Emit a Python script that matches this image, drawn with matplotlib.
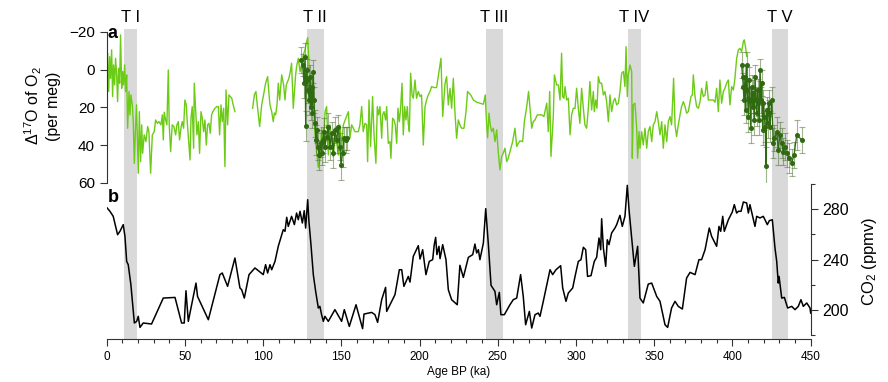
import numpy as np
import matplotlib
matplotlib.use("Agg")
import matplotlib.pyplot as plt
from matplotlib.ticker import MultipleLocator

plt.rcParams['font.family'] = ['Liberation Sans', 'DejaVu Sans']
plt.rcParams['mathtext.fontset'] = 'custom'
plt.rcParams['mathtext.rm'] = 'Liberation Sans'
plt.rcParams['mathtext.it'] = 'Liberation Sans:italic'

# --- Δ17O of O2, full record (per meg); NaN marks the data gap ---
age_o17 = [
    0.0, 0.6, 1.3, 1.9, 2.5, 3.2, 3.8, 4.4, 5.1, 5.7, 6.4, 7.0, 7.6, 8.3, 8.9, 9.6,
    10.2, 10.8, 11.5, 12.1, 12.8, 13.4, 14.3, 14.9, 15.5, 16.4, 17.0, 17.7, 18.5, 19.1,
    20.2, 20.9, 21.7, 22.4, 23.0, 24.0, 25.1, 26.2, 27.0, 28.1, 29.2, 30.4, 31.3, 32.4,
    33.4, 34.7, 35.6, 36.2, 36.8, 37.7, 38.5, 39.4, 40.0, 40.9, 41.9, 43.0, 44.1, 44.9,
    45.8, 46.6, 47.5, 48.3, 49.2, 50.0, 50.9, 51.5, 52.2, 53.3, 53.9, 54.7, 55.6, 56.0,
    56.9, 57.7, 58.6, 59.4, 60.3, 61.1, 62.0, 62.8, 63.7, 64.5, 65.4, 66.2, 67.1, 67.9,
    69.2, 70.5, 71.4, 72.2, 73.1, 73.9, 74.8, 75.6, 76.3, 77.3, 78.2, 79.0, 79.9, 80.9,
    82.0, 88.0,
    93.3, 94.4, 95.4, 96.5, 97.8, 99.1, 100.3, 101.6, 102.9, 103.8, 104.4, 105.5, 106.5,
    107.2, 108.0, 108.9, 109.7, 110.6, 111.9, 113.1, 114.0, 114.8, 115.7, 116.5, 117.4,
    118.2, 119.3, 120.8, 121.4, 122.5, 123.6, 124.6, 125.7, 126.8, 127.6, 128.5,
    129.3, 130.2, 131.0, 132.1, 133.2, 134.2, 135.3, 136.4, 137.4, 138.5, 139.6, 140.6,
    141.7, 142.7, 143.8, 144.9, 145.9, 147.0, 148.1, 149.1, 150.2, 151.3,
    154.5, 155.5, 156.6, 157.7, 158.7, 159.8, 160.9, 161.9, 163.0, 164.0, 165.1, 166.2,
    166.8, 167.7, 168.7, 170.0, 170.9, 172.1, 173.0, 173.8, 174.7, 175.8, 176.4, 177.3,
    178.3, 179.0, 180.0, 181.1, 181.7, 182.8, 183.7, 184.5, 185.4, 186.2, 187.1, 187.9,
    188.8, 189.6, 190.5, 191.3, 192.2, 192.8, 193.5, 194.3, 195.2, 196.0, 197.1, 198.1,
    199.2, 200.3, 201.3, 202.4, 203.5, 204.5, 205.6, 206.7, 207.7, 209.4, 210.9, 213.7,
    214.8, 216.3, 217.3, 218.4, 219.5, 220.5, 221.6, 222.6, 223.7, 224.8, 225.8, 226.9,
    228.4, 229.7, 230.7, 232.7, 234.4, 236.5, 238.6, 240.8, 242.0, 242.9, 243.5, 244.4,
    245.2, 246.1, 247.2, 248.2, 249.3, 250.3, 251.4, 252.5, 253.5, 254.6, 255.7, 256.7,
    257.8, 259.5, 261.0, 262.1, 263.1, 264.2, 265.9, 267.0, 268.5, 269.7, 270.6, 271.7,
    272.7, 273.8, 275.3, 276.6, 278.1, 279.5, 281.3, 282.3, 283.2, 284.0, 285.5, 286.2,
    287.6, 288.7, 289.8, 290.8, 291.5, 292.3, 293.0, 294.0, 295.1, 296.2, 297.2, 298.3,
    299.4, 300.4, 301.5, 302.5, 303.6, 304.7, 305.7, 306.8, 307.9, 308.9, 310.0, 311.1,
    311.7, 312.6, 313.4, 314.3, 315.3, 316.4, 317.5, 318.5, 319.6, 320.7, 321.7, 322.8,
    323.9, 324.9, 326.0, 327.1, 328.1, 329.2, 330.3, 331.3, 332.0, 332.8, 333.4, 334.5,
    335.6, 336.0, 336.6, 337.7, 338.8, 339.4, 340.3, 340.9, 342.0, 343.0, 344.1, 345.2,
    346.2, 347.3, 348.4, 349.4, 350.5, 351.6, 352.6, 353.7, 354.8, 355.8, 356.9, 358.0,
    359.0, 360.1, 361.1, 362.4, 363.3, 364.3, 365.4, 366.5, 367.5, 368.6, 369.7, 370.7,
    371.8, 373.5, 374.4, 375.0, 376.1, 377.1, 378.2, 379.3, 380.3, 381.4, 382.5, 383.5,
    384.6, 385.7, 386.7, 387.8, 388.9, 389.9, 391.0, 392.0, 393.1, 394.2, 395.2, 396.3,
    397.4, 398.4, 399.5, 400.6, 401.6, 402.7, 403.8, 404.8, 405.9, 407.0, 407.6, 408.5,
    409.1,
]
d17o = [
    -4.3, -8.7, 11.6, -6.9, 4.6, -10.5, 14.3, -2.5, 8.1, -6.0, 2.8, 17.0, -0.7, 7.2, -18.4, 9.9,
    1.0, 8.1, -2.5, 11.6, 2.8, 31.1, 11.6, 24.0, 13.4, 18.7, 27.6, 49.7, 29.3, 18.7,
    55.0, 22.3, 48.8, 29.3, 44.4, 34.6, 38.2, 30.2, 32.9, 55.0, 34.6, 32.9, 26.7, 28.5,
    27.6, 29.3, 24.0, 37.3, 22.6, 26.7, 29.3, 0.2, 29.3, 43.5, 29.3, 30.2, 34.6, 29.3,
    27.6, 37.3, 31.1, 27.6, 31.1, 16.1, 18.7, 27.6, 35.5, 47.9, 25.8, 19.6, 41.7, 7.2,
    22.3, 34.6, 27.6, 44.4, 22.3, 25.8, 32.9, 26.7, 40.0, 29.3, 28.5, 33.8, 24.0, 22.3,
    20.5, 19.6, 19.6, 34.6, 18.7, 27.6, 20.5, 51.5, 10.8, 29.3, 13.4, 14.3, 15.0, 18.7,
    22.3, np.nan,
    20.5, 13.4, 11.6, 20.5, 30.2, 18.7, 13.4, 7.2, 3.7, 13.4, 18.7, 22.3, 27.6,
    23.0, 24.0, 18.7, 7.2, 16.1, 2.8, 8.1, 16.1, 8.1, 6.3, 4.6, 1.0,
    -3.4, 20.5, 2.8, -1.6, -6.0, 1.0, -2.5, -7.8, -10.5, -14.0, -17.0,
    -4.3, 11.6, 2.8, 16.1, 34.6, 43.5, 52.0, 47.0, 31.1, 40.0, 22.3, 19.6,
    45.3, 29.3, 37.3, 46.2, 32.9, 38.2, 45.3, 29.3, 41.7, 29.3,
    22.3, 36.4, 29.3, 31.1, 32.9, 32.9, 32.9, 29.3, 19.6, 32.9, 28.5, 29.3,
    48.8, 16.1, 40.8, 14.3, 34.6, 49.7, 19.6, 24.0, 19.6, 36.4, 24.0, 22.3,
    26.7, 19.6, 39.1, 38.2, 47.0, 25.8, 26.7, 29.3, 39.1, 20.5, 27.6, 20.5,
    7.2, 34.6, 19.6, 26.7, 19.6, 28.5, 32.9, 1.9, 13.4, 15.2, 5.5, 15.2,
    11.6, 14.3, 13.4, 40.0, 19.6, 16.1, 13.4, 11.6, 9.0, 9.5, 9.5, -6.0,
    24.9, 7.2, 3.7, 18.7, 9.9, 20.5, 4.6, 22.3, 36.4, 26.7, 29.3, 31.1,
    31.1, 22.3, 11.6, 13.4, 16.1, 17.3, 17.8, 18.4, 13.4, 29.3, 36.1, 23.1,
    29.3, 32.9, 31.1, 38.2, 32.0, 43.5, 53.2, 46.1, 44.4, 41.7, 48.8, 47.0,
    43.5, 38.2, 31.1, 40.8, 39.1, 37.8, 38.2, 27.6, 19.6, 11.6, 20.5, 31.1,
    27.6, 26.7, 24.0, 24.0, 24.0, 24.9, 17.8, 32.9, 11.6, 46.1, 24.9, 2.8,
    8.1, 8.1, 16.1, -8.7, 14.3, 15.2, 9.0, 16.1, 15.2, 34.6, 24.0, 20.5,
    20.5, 9.9, 20.5, 28.5, 9.9, 20.5, 29.3, 31.1, 20.5, 6.3, 21.4, 11.6,
    22.3, 16.1, 20.5, 3.7, 7.2, 7.2, 13.4, 11.6, 17.0, 27.6, 13.4, 22.3,
    17.0, 15.2, 18.7, 17.8, 11.6, 1.9, 1.0, 9.0, -12.2, 14.3, 2.8, -2.5,
    1.0, 47.0, 18.7, 17.8, 31.1, 47.0, 32.9, 41.7, 32.9, 40.0, 31.1, 41.7,
    32.9, 30.2, 38.2, 29.3, 27.6, 22.3, 27.6, 34.6, 27.6, 41.7, 29.3, 38.2,
    27.6, 24.9, 29.3, 4.6, 29.3, 35.5, 29.3, 24.0, 19.6, 17.0, 19.6, 23.1,
    22.3, 14.3, 13.4, 2.8, 14.3, 19.6, 20.5, 17.0, 9.9, 14.3, 13.4, 6.3,
    16.1, 16.1, 16.1, 16.1, 17.3, 9.9, 22.3, 5.5, 17.8, 11.6, 9.9, 7.2,
    5.5, 18.7, 9.0, 10.8, 4.6, -6.0, -10.5, -11.3, -9.6, -14.9, -15.8, -11.3,
    -7.0,
]

# --- high-resolution Δ17O across Termination II ---
age_t2 = [124.0, 125.3, 126.1, 126.8, 127.2, 127.8, 128.3, 128.9, 129.5, 130.0, 130.4,
          131.0, 131.4, 132.1, 132.5, 133.2, 133.8, 134.2, 134.9, 135.9, 136.8, 137.4,
          138.1, 138.9, 139.5, 140.6, 141.7, 142.7, 143.8, 144.9, 145.9, 147.0, 148.1,
          149.1, 149.8, 150.8, 151.7, 153.0, 153.8]
d17o_t2 = [-5.2, -2.5, 7.2, -6.9, 29.9, 0.1, 5.5, 10.8, 16.1, 3.7, 19.6,
           9.0, 23.1, 1.0, 16.1, 28.5, 37.3, 32.0, 40.8, 45.3, 39.1, 44.4,
           37.3, 32.9, 40.8, 35.5, 30.2, 40.8, 33.8, 44.4, 32.0, 37.3, 30.2,
           40.8, 50.6, 44.4, 36.4, 37.3, 36.4]
err_t2 = [7, 6, 8, 7, 8, 6, 7, 7, 8, 6, 7,
          7, 8, 6, 7, 7, 8, 7, 7, 8, 7, 6,
          7, 7, 8, 6, 7, 7, 6, 8, 7, 7, 6,
          7, 8, 7, 6, 7, 6]

# --- high-resolution Δ17O across Termination V ---
age_t5 = [405.9, 406.5, 406.9, 407.4, 408.0, 408.4, 409.1, 409.5, 410.2, 410.8, 411.2,
          411.7, 412.3, 413.0, 413.4, 414.0, 414.4, 415.1, 415.5, 416.1, 416.6, 417.2,
          417.6, 418.3, 418.7, 419.3, 419.7, 420.4, 421.0, 421.4, 421.9, 422.5, 423.2,
          423.6, 424.0, 425.1, 426.1, 426.8, 428.3, 429.3, 430.4, 431.5, 432.5, 433.6,
          434.7, 436.4, 437.9, 439.4, 441.1, 444.3]
d17o_t5 = [-2.5, 3.7, 9.0, 16.1, 3.7, 21.4, -2.5, 10.8, 24.9, 5.5, 16.1,
           31.1, 9.0, 19.6, 12.5, 26.7, 3.7, 16.1, 23.1, 10.8, 17.8, 26.7,
           0.1, 16.1, 7.2, 32.0, 17.8, 24.9, 30.2, 51.1, 21.4, 28.5, 17.8,
           23.1, 30.2, 16.1, 39.1, 36.4, 32.9, 42.6, 34.6, 39.1, 43.5, 40.8,
           44.4, 47.0, 49.3, 45.3, 34.6, 37.3]
err_t5 = [7, 6, 7, 8, 6, 7, 7, 6, 8, 7, 7,
          8, 6, 7, 7, 8, 6, 7, 7, 6, 7, 8,
          6, 7, 7, 8, 7, 7, 8, 10, 7, 8, 7,
          7, 8, 7, 8, 7, 8, 8, 7, 8, 7, 7,
          7, 8, 7, 7, 8, 7]

# --- Antarctic CO2 (ppmv) ---
age_co2 = [
    0.0, 2.1, 4.2, 7.0, 8.5, 10.6, 11.7, 12.8, 13.8, 15.5, 17.0, 17.7, 19.2, 20.2, 21.3,
    23.4, 28.7, 36.2, 43.7, 47.9, 49.6, 50.7, 52.2, 57.1, 58.1, 65.0, 72.4, 73.9, 77.3,
    82.0, 85.2, 86.3, 88.0, 91.0, 94.8, 100.1, 101.6, 102.9, 104.4, 105.5, 107.6, 109.7,
    112.9, 114.0, 115.1, 116.1, 118.2, 120.0, 121.4, 122.5, 123.6, 125.1, 126.3, 127.2,
    128.5, 129.3, 130.6, 132.1, 133.6, 135.3, 136.3, 137.4, 138.5, 139.5, 141.7, 145.9,
    150.2, 151.9, 155.1, 159.4, 163.6, 164.5, 169.4, 171.5, 173.2, 175.8, 178.3, 179.0,
    184.3, 187.1, 188.6, 190.0, 192.8, 193.9, 196.0, 199.2, 200.3, 202.0, 204.1, 206.2,
    208.4, 209.4, 210.3, 211.1, 212.4, 213.1, 214.8, 216.9, 218.4, 220.5, 224.1, 225.8,
    228.0, 231.2, 234.0, 235.4, 236.5, 237.6, 238.6, 240.8, 242.3, 244.0, 245.7, 248.2,
    249.3, 251.0, 252.0, 254.2, 257.8, 259.9, 262.1, 264.6, 266.3, 267.8, 270.2, 271.7,
    273.8, 275.9, 277.0, 279.1, 283.4, 285.1, 287.2, 290.2, 291.5, 293.6, 295.1, 297.9,
    299.4, 301.5, 303.2, 304.7, 306.2, 307.4, 309.6, 311.7, 313.2, 314.7, 315.8, 316.4,
    317.5, 319.0, 320.0, 321.1, 322.8, 324.9, 326.0, 328.1, 329.6, 331.3, 332.8, 333.9,
    335.6, 337.3, 339.4, 340.9, 343.0, 346.2, 348.4, 351.6, 353.7, 356.9, 358.6, 361.1,
    363.3, 365.4, 368.0, 370.7, 372.9, 376.1, 378.6, 380.3, 382.5, 385.2, 386.7, 389.9,
    391.4, 392.5, 393.8, 394.8, 397.4, 399.9, 401.2, 402.7, 403.8, 405.5, 407.0, 409.1,
    410.2, 411.2, 412.7, 414.4, 415.5, 417.6, 419.7, 420.8, 422.3, 423.6, 425.5, 427.2,
    428.3, 429.3, 429.8, 431.5, 433.2, 435.3, 437.9, 440.0, 442.1, 443.8, 445.3, 447.5,
    449.6, 450.0,
]
co2 = [
    281.5, 278.4, 274.4, 259.8, 262.5, 267.8, 258.5, 238.6, 236.0, 220.1, 198.9, 189.7,
    191.0, 195.0, 186.2, 189.7, 188.9, 209.5, 210.0, 189.7, 189.7, 215.3, 191.0, 221.4,
    210.8, 192.3, 228.1, 229.4, 218.8, 241.3, 217.5, 216.1, 209.5, 228.1, 233.4, 228.1,
    236.0, 229.4, 236.0, 232.0, 238.6, 250.6, 263.8, 262.5, 273.6, 266.4, 274.4, 267.8,
    277.0, 271.7, 278.4, 269.1, 278.9, 265.1, 287.6, 270.4, 251.9, 228.1, 214.8, 201.6,
    202.9, 196.3, 191.0, 195.0, 191.0, 200.3, 191.0, 200.3, 187.0, 204.2, 185.2, 196.8,
    198.1, 196.3, 190.2, 208.2, 218.0, 198.9, 212.2, 232.0, 232.0, 218.8, 226.7, 222.2,
    242.6, 251.1, 240.5, 247.9, 228.1, 238.6, 240.0, 251.9, 257.7, 244.0, 250.6, 240.8,
    251.9, 240.0, 216.1, 208.2, 204.2, 235.5, 225.9, 241.8, 244.0, 252.4, 245.3, 247.9,
    240.0, 253.2, 280.5, 251.9, 219.6, 214.8, 204.2, 214.0, 196.3, 196.3, 204.2, 208.2,
    209.5, 228.1, 210.8, 188.3, 198.9, 185.7, 196.3, 197.6, 195.0, 206.9, 232.0, 228.1,
    232.0, 235.2, 217.5, 206.9, 213.5, 217.5, 226.7, 238.6, 240.0, 249.8, 247.9, 226.7,
    227.3, 238.6, 241.8, 257.2, 247.9, 272.5, 249.2, 234.7, 255.8, 251.9, 261.2, 265.1,
    267.8, 275.2, 266.4, 274.4, 299.0, 279.7, 257.2, 234.7, 250.6, 209.5, 205.6, 220.6,
    221.4, 210.8, 206.9, 188.3, 186.2, 201.6, 206.9, 202.9, 200.8, 225.4, 229.9, 228.1,
    240.0, 240.0, 247.9, 265.1, 258.5, 250.6, 266.4, 262.5, 274.4, 262.5, 271.7, 277.8,
    283.7, 277.0, 278.4, 278.4, 285.8, 285.0, 277.0, 283.7, 275.7, 266.4, 274.4, 273.1,
    274.4, 271.7, 267.8, 271.0, 271.7, 249.2, 238.6, 221.4, 226.7, 209.5, 210.0, 201.6,
    202.9, 200.3, 202.9, 208.2, 202.9, 205.6, 201.6, 197.6,
]

# glacial terminations (ka)
term_start = [11.0, 128.0, 242.5, 333.5, 425.3]
term_end = [19.5, 138.8, 253.2, 341.3, 435.5]
term_labels = ['T I', 'T II', 'T III', 'T IV', 'T V']

GREEN = '#6ccb16'
DARK_GREEN = '#2f6a10'
ERR_COLOR = (0.33, 0.47, 0.22, 0.55)
BAND = '#d9d9d9'
AXIS_COLOR = '#333333'

fig = plt.figure(figsize=(8.88, 3.82), dpi=100)
ax_top = fig.add_axes([0.1201, 0.5217, 0.7928, 0.4016])
ax_bot = fig.add_axes([0.1201, 0.1126, 0.7928, 0.4091])

for ax in (ax_top, ax_bot):
    ax.set_xlim(0, 450)
    ax.patch.set_alpha(0)
    for s, e in zip(term_start, term_end):
        ax.axvspan(s, e, color=BAND, lw=0, zorder=0)

# panel a
ax_top.plot(age_o17, d17o, color=GREEN, lw=1.0, zorder=2)
for ages, vals, errs in ((age_t2, d17o_t2, err_t2), (age_t5, d17o_t5, err_t5)):
    ax_top.errorbar(ages, vals, yerr=errs, fmt='-o', color=DARK_GREEN, ms=2.6,
                    lw=0.9, ecolor=ERR_COLOR, elinewidth=0.8, capsize=2.4,
                    capthick=0.8, zorder=3)
ax_top.set_ylim(60, -21.4)
ax_top.set_yticks([-20, 0, 20, 40, 60])
ax_top.set_xticks([])
for side in ('top', 'right', 'bottom'):
    ax_top.spines[side].set_visible(False)
ax_top.spines['left'].set_bounds(-20, 60)
ax_top.spines['left'].set_color(AXIS_COLOR)
ax_top.tick_params(axis='y', direction='out', length=5, width=0.8,
                   color=AXIS_COLOR, labelsize=11)
ax_top.set_ylabel('$\\Delta^{17}$O of O$_2$\n(per meg)', fontsize=11.5,
                  labelpad=6, linespacing=1.1)

for s, e, lab in zip(term_start, term_end, term_labels):
    ax_top.text((s + e) / 2, 1.075, lab, transform=ax_top.get_xaxis_transform(),
                ha='center', va='center', fontsize=12)

# panel b
ax_bot.plot(age_co2, co2, color='black', lw=1.1, zorder=2)
ax_bot.set_ylim(177, 301.1)
ax_bot.yaxis.tick_right()
ax_bot.yaxis.set_label_position('right')
ax_bot.set_yticks([200, 240, 280])
ax_bot.yaxis.set_minor_locator(MultipleLocator(20))
ax_bot.xaxis.set_major_locator(MultipleLocator(50))
ax_bot.xaxis.set_minor_locator(MultipleLocator(10))
for side in ('top', 'left'):
    ax_bot.spines[side].set_visible(False)
ax_bot.spines['right'].set_bounds(180, 300)
for side in ('right', 'bottom'):
    ax_bot.spines[side].set_color(AXIS_COLOR)
ax_bot.tick_params(which='major', direction='out', length=5, width=0.8, color=AXIS_COLOR)
ax_bot.tick_params(which='minor', direction='out', length=3, width=0.8, color=AXIS_COLOR)
ax_bot.tick_params(axis='y', labelsize=11.5)
ax_bot.tick_params(axis='x', labelsize=8.5, pad=4)
ax_bot.set_ylabel('CO$_2$ (ppmv)', fontsize=12, labelpad=8)
ax_bot.set_xlabel('Age BP (ka)', fontsize=8.5, labelpad=2)

fig.text(0.127, 0.911, 'a', fontsize=13, fontweight='bold', ha='center', va='center')
fig.text(0.128, 0.484, 'b', fontsize=13, fontweight='bold', ha='center', va='center')

fig.savefig('out.png', dpi=100)
